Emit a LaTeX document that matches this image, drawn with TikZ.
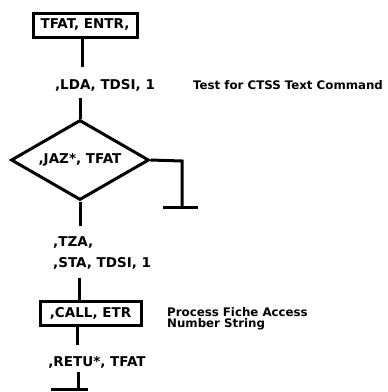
\documentclass[tikz,border=0pt]{standalone}
\usepackage{fontspec}
\setmainfont{DejaVu Sans}
\usetikzlibrary{shapes.geometric}
\begin{document}
\begin{tikzpicture}[x=1pt,y=-1pt,
  flow/.style={line width=3pt},
  codefont/.style={font=\bfseries\fontsize{13.5}{14}\selectfont},
  code/.style={codefont, inner sep=0pt},
  note/.style={font=\bfseries\fontsize{11.8}{12.5}\selectfont, inner sep=0pt, align=left, anchor=west},
  box/.style={draw, line width=3pt, codefont, minimum height=24pt, inner sep=3pt},
  decision/.style={draw, diamond, line width=3pt, aspect=1.72, minimum width=138pt, minimum height=80pt, inner sep=0pt, codefont}]
\useasboundingbox (0,0) rectangle (388,392);
% program flow, top to bottom
\node[box, minimum width=104pt] (entry) at (85,25) {TFAT, ENTR,};
\node[code] (lda) at (105,85) {,LDA, TDSI, 1};
\node[note] (ltext) at (193,85) {Test for CTSS Text Command};
\node[decision] (jaz) at (80,160) {,JAZ*, TFAT};
\node[code, anchor=west] (tza) at (53,243) {,TZA,};
\node[code, anchor=west] (sta) at (53,263) {,STA, TDSI, 1};
\node[box, minimum width=101pt] (call) at (90.5,313) {,CALL, ETR};
\node[note] (ctext) at (167,319) {Process Fiche Access\\[-2pt]Number String};
\node[code] (retu) at (97,362) {,RETU*, TFAT};
% exit branches
\coordinate (jazc) at (182,161);
\coordinate (jazend) at (182,207);
\coordinate (jazl) at (163,207);
\coordinate (jazr) at (198,207);
\coordinate (endtop) at (78,372);
\coordinate (endend) at (78,389);
\coordinate (endl) at (51,389);
\coordinate (endr) at (88,389);
% connectors
\draw[flow] (entry.south -| 82,0) -- (82,67);
\draw[flow] (80,98) -- (jaz.north);
\draw[flow] (jaz.east) -- (jazc) -- (jazend);
\draw[flow] (jazl) -- (jazr);
\draw[flow] (jaz.south) -- (80,226);
\draw[flow] (79,278) -- (call.north -| 79,0);
\draw[flow] (call.south -| 77,0) -- (77,345);
\draw[flow] (endtop) -- (endend);
\draw[flow] (endl) -- (endr);
\end{tikzpicture}
\end{document}
